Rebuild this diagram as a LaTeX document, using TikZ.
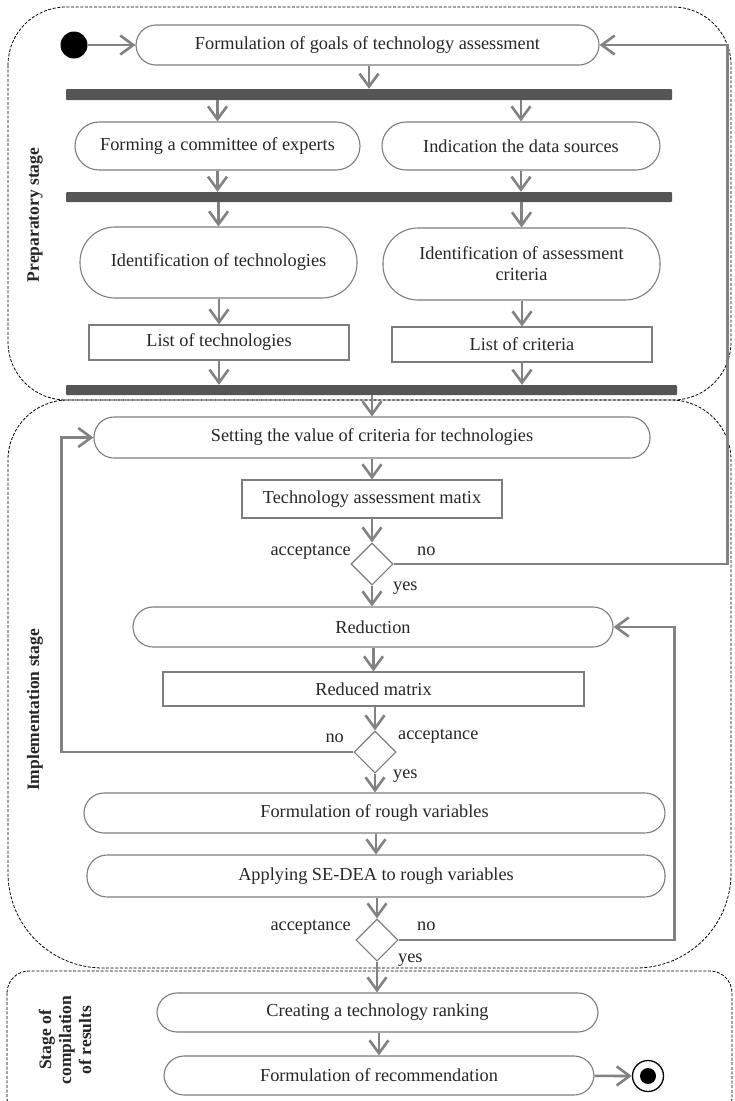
\documentclass[tikz,border=0pt]{standalone}
\usepackage{fontspec}
\setmainfont{Liberation Serif}
\usetikzlibrary{arrows.meta,shapes.geometric}
\definecolor{linegray}{RGB}{130,130,130}
\definecolor{edgegray}{RGB}{125,125,125}
\definecolor{bargray}{RGB}{85,85,85}

\begin{document}
\begin{tikzpicture}[x=1pt,y=-1pt,
  every node/.style={font=\fontsize{18.3}{21}\selectfont, inner sep=0pt, text=black!85},
  act/.style={draw=edgegray, line width=1.1pt, rounded corners=20pt, align=center},
  obj/.style={draw=edgegray, line width=1.1pt, align=center},
  bar/.style={fill=bargray, rounded corners=1pt},
  choice/.style={draw=edgegray, line width=1.1pt, diamond, minimum width=42pt, minimum height=42pt},
  flow/.style={draw=linegray, line width=2.6pt, -{Straight Barb[length=13pt,width=19pt]}},
  stagebox/.style={draw=black, dash pattern=on 3pt off 1.6pt, line width=0.8pt},
  stagelabel/.style={rotate=90, font=\bfseries\fontsize{17.5}{20}\selectfont, align=center}]
\useasboundingbox (0,0) rectangle (734,1101);

% stages
\draw[stagebox, rounded corners=58] (8,7) rectangle (731,400);
\draw[stagebox] (370,400) [rounded corners=60] -- (8,400) [rounded corners=95] -- (8,968) -- (731,968) [rounded corners=60] -- (731,400) -- cycle;
\draw[stagebox, rounded corners=22] (7,971) rectangle (732,1120);
\node[stagelabel] (prep) at (35,215) {Preparatory stage};
\node[stagelabel] (impl) at (35,710) {Implementation stage};
\node[stagelabel] (comp) at (65,1040) {Stage of\\compilation\\of results};

% preparatory stage
\node[circle, fill=black, minimum size=27pt] (start) at (74,45) {};
\node[act, minimum width=463pt, minimum height=40pt] (goal) at (367.5,45) {Formulation of goals of technology assessment};
\node[bar, minimum width=606pt, minimum height=11pt] (bar1) at (369,94.5) {};
\node[act, minimum width=285pt, minimum height=48pt, rounded corners=24pt] (form) at (217.5,146) {Forming a committee of experts};
\node[act, minimum width=278pt, minimum height=48pt, rounded corners=24pt] (src) at (521,146) {Indication the data sources};
\node[bar, minimum width=606pt, minimum height=10pt] (bar2) at (369,197) {};
\node[act, minimum width=277pt, minimum height=71pt, rounded corners=35pt] (idtech) at (218.5,262.5) {Identification of technologies};
\node[act, minimum width=277pt, minimum height=72pt, rounded corners=35pt] (idcrit) at (521.5,264) {Identification of assessment\\criteria};
\node[obj, minimum width=260pt, minimum height=35pt] (listtech) at (219,342.5) {List of technologies};
\node[obj, minimum width=260pt, minimum height=35pt] (listcrit) at (522,344.5) {List of criteria};
\node[bar, minimum width=611pt, minimum height=10pt] (bar3) at (371.5,390) {};

% implementation stage
\node[act, minimum width=556pt, minimum height=41pt] (setting) at (372,437.5) {Setting the value of criteria for technologies};
\node[obj, minimum width=260pt, minimum height=38pt] (matrix) at (372,499) {Technology assessment matix};
\node[choice] (dec1) at (372,564) {};
\node[act, minimum width=480pt, minimum height=40pt] (reduction) at (373,627) {Reduction};
\node[obj, minimum width=421pt, minimum height=34pt] (redmatrix) at (373.5,689) {Reduced matrix};
\node[choice] (dec2) at (375,752) {};
\node[act, minimum width=581pt, minimum height=40pt] (rough) at (374.5,813) {Formulation of rough variables};
\node[act, minimum width=578pt, minimum height=42pt] (sedea) at (376,876) {Applying SE-DEA to rough variables};
\node[choice] (dec3) at (377,940) {};

% compilation of results
\node[act, minimum width=441pt, minimum height=39pt] (ranking) at (377.5,1012.5) {Creating a technology ranking};
\node[act, minimum width=430pt, minimum height=39pt] (recom) at (379,1075.5) {Formulation of recommendation};
\node[circle, draw=black, line width=1.3pt, minimum size=31pt] (stop) at (648,1076) {};
\fill (stop) circle[radius=8pt];

% guard labels
\node[anchor=base east] (acc1) at (351,555) {acceptance};
\node[anchor=base west] (no1) at (417,555) {no};
\node[anchor=base west] (yes1) at (393,590) {yes};
\node[anchor=base east] (no2) at (344,742) {no};
\node[anchor=base west] (acc2) at (398,739) {acceptance};
\node[anchor=base west] (yes2) at (393,778) {yes};
\node[anchor=base east] (acc3) at (351,930) {acceptance};
\node[anchor=base west] (no3) at (417,930) {no};
\node[anchor=base west] (yes3) at (398,962) {yes};

% flows
\draw[flow] (start) -- (goal);
\draw[flow] (goal.south -| bar1) -- (bar1.north);
\draw[flow] (bar1.south -| form) -- (form.north);
\draw[flow] (bar1.south -| src) -- (src.north);
\draw[flow] (form.south) -- (bar2.north -| form);
\draw[flow] (src.south) -- (bar2.north -| src);
\draw[flow] (bar2.south -| idtech) -- (idtech.north);
\draw[flow] (bar2.south -| idcrit) -- (idcrit.north);
\draw[flow] (idtech.south -| listtech) -- (listtech.north);
\draw[flow] (idcrit.south -| listcrit) -- (listcrit.north);
\draw[flow] (listtech.south) -- (bar3.north -| listtech);
\draw[flow] (listcrit.south) -- (bar3.north -| listcrit);
\draw[flow] (bar3.south -| setting) -- (setting.north);
\draw[flow] (setting) -- (matrix);
\draw[flow] (matrix) -- (dec1);
\draw[flow] (dec1.east) -- ++(334,0) |- (goal.east);
\draw[flow] (dec1.south) -- (reduction.north -| dec1);
\draw[flow] (reduction.south -| redmatrix) -- (redmatrix.north);
\draw[flow] (redmatrix.south -| dec2) -- (dec2.north);
\draw[flow] (dec2.west) -- ++(-292,0) |- (setting.west);
\draw[flow] (dec2.south) -- (rough.north -| dec2);
\draw[flow] (rough.south -| sedea) -- (sedea.north);
\draw[flow] (sedea.south -| dec3) -- (dec3.north);
\draw[flow] (dec3.east) -- ++(276,0) |- (reduction.east);
\draw[flow] (dec3.south) -- (ranking.north -| dec3);
\draw[flow] (ranking.south -| recom) -- (recom.north);
\draw[flow] (recom) -- (stop);
\end{tikzpicture}
\end{document}
